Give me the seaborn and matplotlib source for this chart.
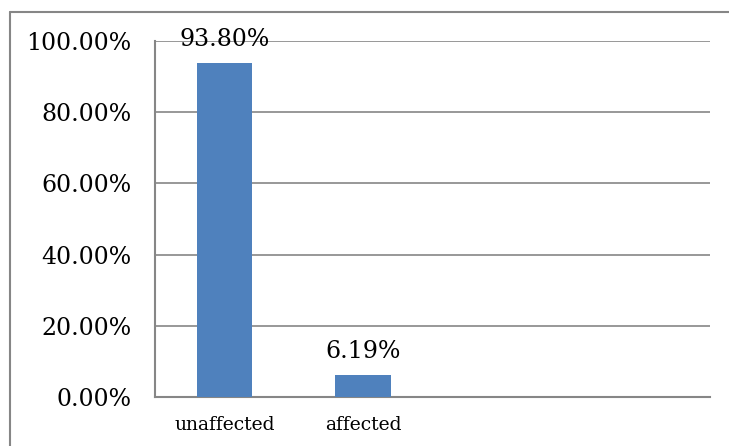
import matplotlib
matplotlib.use("Agg")
import matplotlib.pyplot as plt
from matplotlib.lines import Line2D
from matplotlib.ticker import FixedLocator, PercentFormatter
import seaborn as sns
import pandas as pd

categories = ["unaffected", "affected", " ", "  "]
shares = [0.938, 0.0619, None, None]
value_labels = ["93.80%", "6.19%"]
y_ticks = [0.0, 0.2, 0.4, 0.6, 0.8, 1.0]

sns.set_theme(style="white")
plt.rcParams["font.family"] = ["DejaVu Serif"]

grid_col = "#868686"
bar_col = "#4F81BD"

df = pd.DataFrame({"status": categories, "share": shares})

fig = plt.figure(figsize=(7.29, 4.46), dpi=100)
ax = fig.add_axes([155 / 729, 1 - 397 / 446, (710 - 155) / 729, (397 - 41) / 446])

sns.barplot(data=df, x="status", y="share", order=categories, color=bar_col,
            width=0.4, saturation=1, linewidth=0, ax=ax, zorder=3)

ax.set_xlim(-0.5, len(categories) - 0.5)
ax.set_ylim(0, 1.0)
ax.set_xlabel("")
ax.set_ylabel("")

ax.yaxis.set_major_locator(FixedLocator(y_ticks))
ax.yaxis.set_major_formatter(PercentFormatter(xmax=1, decimals=2))
ax.grid(axis="y", color=grid_col, linewidth=1.2, zorder=0)
ax.tick_params(axis="y", length=6, width=1.2, color=grid_col, direction="out",
               labelsize=17, pad=11, labelcolor="black")

# category labels sit between boundary ticks
ax.set_xticks(range(len(categories)))
ax.set_xticklabels(categories)
ax.tick_params(axis="x", which="major", length=0, labelsize=13.5, pad=14,
               labelcolor="black")
ax.set_xticks([i - 0.5 for i in range(len(categories) + 1)], minor=True)
ax.tick_params(axis="x", which="minor", length=5, width=1.2, color=grid_col,
               direction="out")

for side in ["top", "right"]:
    ax.spines[side].set_visible(False)
for side in ["left", "bottom"]:
    ax.spines[side].set_color(grid_col)
    ax.spines[side].set_linewidth(1.5)

for i, txt in enumerate(value_labels):
    ax.annotate(txt, (i, shares[i]), xytext=(0, 17), textcoords="offset points",
                ha="center", va="center", fontsize=17, color="black",
                zorder=5, annotation_clip=False)

# chart-area frame (left and top edges)
fx, fy = 10 / 729, 1 - 12 / 446
fig.add_artist(Line2D([fx, fx], [-0.05, fy], transform=fig.transFigure,
                      color=grid_col, linewidth=1.5))
fig.add_artist(Line2D([fx, 1.05], [fy, fy], transform=fig.transFigure,
                      color=grid_col, linewidth=1.5))

fig.savefig("out.png", dpi=100)
